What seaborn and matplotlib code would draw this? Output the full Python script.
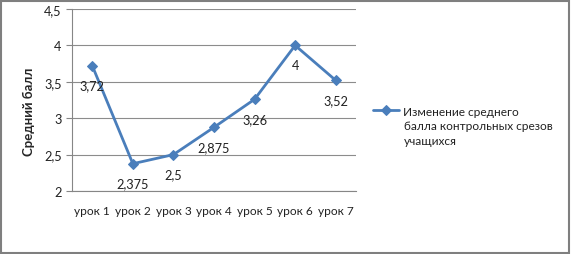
import matplotlib
matplotlib.use("Agg")
import matplotlib.pyplot as plt
import seaborn as sns
import pandas as pd
from matplotlib.ticker import FuncFormatter, FixedLocator
from matplotlib.patches import Rectangle

categories = ["урок 1", "урок 2", "урок 3", "урок 4", "урок 5", "урок 6", "урок 7"]
values = [3.72, 2.375, 2.5, 2.875, 3.26, 4.0, 3.52]
value_labels = ["3,72", "2,375", "2,5", "2,875", "3,26", "4", "3,52"]
series_lines = ["Изменение среднего", "балла контрольных срезов", "учащихся"]
y_label = "Средний балл"

sns.set_style("white")
plt.rcParams['font.family'] = ['Lato', 'DejaVu Sans']

df = pd.DataFrame({"x": range(len(categories)), "y": values, "s": series_lines[0]})

fig = plt.figure(figsize=(5.71, 2.55), dpi=100)
ax = fig.add_axes([72/571, 1-192/255, (356-72)/571, (192-10)/255])

color = "#4A7EBB"
fs = 9.2
fs_x = 8.6
sns.lineplot(data=df, x="x", y="y", hue="s", palette=[color], marker="D",
             markersize=5, linewidth=2, markeredgecolor=color, ax=ax)

ax.set_xlim(-0.5, len(categories) - 0.5)
ax.set_ylim(2, 4.5)
ax.set_yticks([2, 2.5, 3, 3.5, 4, 4.5])
ax.yaxis.set_major_formatter(FuncFormatter(lambda v, p: ("%g" % v).replace(".", ",")))
ax.set_xticks(range(len(categories)))
ax.set_xticklabels(categories)
ax.xaxis.set_minor_locator(FixedLocator([i - 0.5 for i in range(len(categories) + 1)]))
ax.tick_params(axis="x", which="major", length=0, labelsize=fs_x, pad=10, labelcolor="#222222")
ax.tick_params(axis="x", which="minor", length=4, color="#868686", direction="out")
ax.tick_params(axis="y", length=4, color="#868686", labelsize=fs, direction="out", left=True,
               labelcolor="#222222")
ax.grid(axis="y", color="#8C8C8C", linewidth=0.8)
ax.set_axisbelow(True)
for s in ["top", "right"]:
    ax.spines[s].set_visible(False)
for s in ["left", "bottom"]:
    ax.spines[s].set_color("#868686")
    ax.spines[s].set_linewidth(0.8)
ax.set_xlabel("")
ax.set_ylabel(y_label, fontsize=9.5, fontweight="bold", labelpad=8)
ax.yaxis.set_label_coords(-0.13, 0.44)

for i, (v, t) in enumerate(zip(values, value_labels)):
    ax.annotate(t, (i, v), xytext=(0, -14), textcoords="offset points",
                ha="center", va="center", fontsize=fs, color="#222222")

leg = ax.legend(loc="center left", bbox_to_anchor=(373/571, 1-112/255), bbox_transform=fig.transFigure,
                frameon=False, fontsize=fs_x, handlelength=2.2, handletextpad=0.3,
                borderaxespad=0, borderpad=0)
for t in leg.get_texts():
    t.set_color("#222222")
fig.text(404/571, 1-121/255, "\n".join(series_lines[1:]), fontsize=fs_x, color="#222222",
         ha="left", va="top", linespacing=1.45)

fig.patches.append(Rectangle((0.002, 0.004), 0.994, 0.99, transform=fig.transFigure,
                             fill=False, edgecolor="#7F7F7F", linewidth=1.5))

fig.savefig("out.png", dpi=100)
